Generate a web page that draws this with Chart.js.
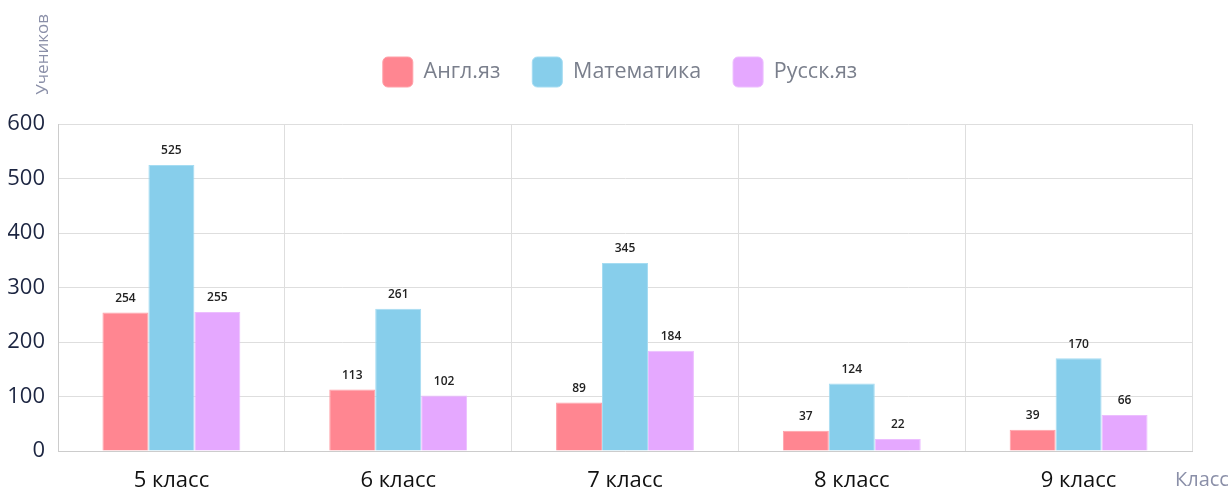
<!DOCTYPE html>
<html>
<head>
<meta charset="utf-8">
<script src="https://cdn.jsdelivr.net/npm/chart.js@4.4.1/dist/chart.umd.min.js"></script>
<style>
  html, body { margin: 0; padding: 0; background: #ffffff; }
  #wrap { width: 1228px; height: 491px; position: relative; }
</style>
</head>
<body>
<div id="wrap"><canvas id="c"></canvas></div>
<script>
// Классы и число учеников по предметам
const categories = ['5 класс', '6 класс', '7 класс', '8 класс', '9 класс'];
const english = [254, 113, 89, 37, 39];
const math = [525, 261, 345, 124, 170];
const russian = [255, 102, 184, 22, 66];
const yTicks = [0, 100, 200, 300, 400, 500, 600];

const FONT = '"Open Sans", "Noto Sans", sans-serif';

// Подписи значений над столбцами
const valueLabels = {
  id: 'valueLabels',
  afterDatasetsDraw(chart) {
    const ctx = chart.ctx;
    ctx.save();
    ctx.font = '600 12px ' + FONT;
    ctx.fillStyle = '#222222';
    ctx.textAlign = 'center';
    ctx.textBaseline = 'bottom';
    chart.data.datasets.forEach((ds, i) => {
      const meta = chart.getDatasetMeta(i);
      meta.data.forEach((bar, j) => {
        ctx.fillText(String(ds.data[j]), bar.x, bar.y - 8);
      });
    });
    ctx.restore();
  }
};

// Названия осей: «Учеников» сверху слева, «Класс» справа под осью
const axisTitles = {
  id: 'axisTitles',
  afterDraw(chart) {
    const ctx = chart.ctx;
    const area = chart.chartArea;
    ctx.save();
    ctx.font = '17px ' + FONT;
    ctx.fillStyle = '#8a8fa8';
    ctx.save();
    ctx.translate(43, 14);
    ctx.rotate(-Math.PI / 2);
    ctx.textAlign = 'right';
    ctx.textBaseline = 'middle';
    ctx.fillText('Учеников', 0, 0);
    ctx.restore();
    ctx.font = '20px ' + FONT;
    ctx.textAlign = 'left';
    ctx.textBaseline = 'middle';
    ctx.fillText('Класс', area.right - 17, area.bottom + 29);
    ctx.restore();
  }
};

// Легенда: дополнительный отступ снизу и центрирование по области графика
const legendPlacement = {
  id: 'legendPlacement',
  beforeInit(chart) {
    const legend = chart.legend;
    if (!legend) return;
    const fit = legend.fit;
    legend.fit = function () {
      fit.call(this);
      this.height += 27;
    };
  },
  afterLayout(chart) {
    const legend = chart.legend;
    if (!legend) return;
    const shift = 20;
    legend.left += shift;
    legend.right += shift;
  }
};

new Chart(document.getElementById('c'), {
  type: 'bar',
  data: {
    labels: categories,
    datasets: [
      { label: 'Англ.яз', data: english, backgroundColor: 'rgb(255,134,145)', borderColor: 'rgb(255,160,168)', borderWidth: 1 },
      { label: 'Математика', data: math, backgroundColor: 'rgb(135,206,235)', borderColor: 'rgb(165,220,242)', borderWidth: 1 },
      { label: 'Русск.яз', data: russian, backgroundColor: 'rgb(229,168,255)', borderColor: 'rgb(236,190,255)', borderWidth: 1 }
    ]
  },
  options: {
    responsive: true,
    maintainAspectRatio: false,
    animation: false,
    layout: { padding: { left: 8, right: 36, top: 25, bottom: 0 } },
    datasets: { bar: { categoryPercentage: 0.608, barPercentage: 1.0 } },
    plugins: {
      legend: {
        position: 'top',
        labels: {
          boxWidth: 30,
          boxHeight: 30,
          useBorderRadius: true,
          borderRadius: 5,
          padding: 32,
          color: '#7a7f8c',
          font: { family: FONT, size: 21.5 }
        }
      },
      tooltip: { enabled: false }
    },
    scales: {
      x: {
        grid: { color: '#dedede', drawTicks: false, offset: true },
        border: { color: '#cccccc' },
        ticks: { color: '#111111', font: { family: FONT, size: 22 }, padding: 17 },
        afterFit(scale) { scale.height = 40; }
      },
      y: {
        min: 0,
        max: 600,
        afterBuildTicks(scale) { scale.ticks = yTicks.map(v => ({ value: v })); },
        grid: { color: '#dedede', drawTicks: false },
        border: { color: '#cccccc' },
        ticks: { color: '#1c2541', font: { family: FONT, size: 22 }, padding: 13 },
        afterFit(scale) { scale.width = 50; }
      }
    }
  },
  plugins: [valueLabels, axisTitles, legendPlacement]
});
</script>
</body>
</html>
